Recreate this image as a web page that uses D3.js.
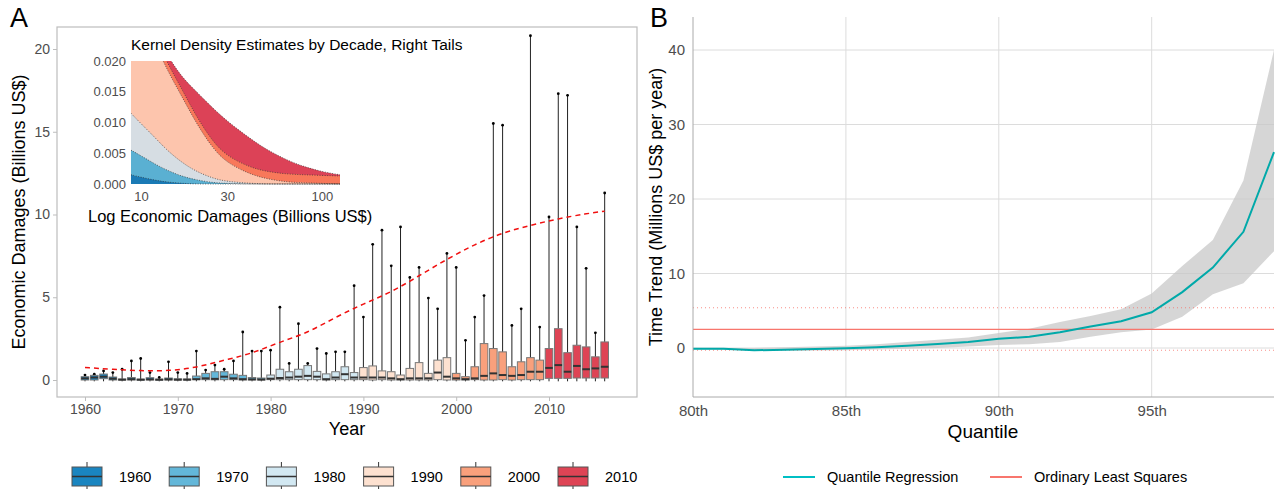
<!DOCTYPE html>
<html><head><meta charset="utf-8">
<script src="https://cdn.jsdelivr.net/npm/d3@7"></script>
<style>body{margin:0;background:#fff;font-family:"Liberation Sans",Arial,sans-serif}</style>
</head><body><svg id="c" width="1279" height="489"></svg>
<script>
const years = d3.range(1960, 2017);
const q3 = [0.2,0.28,0.36,0.18,0.06,0.15,0.05,0.14,0.05,0.12,0.07,0.06,0.24,0.4,0.5,0.5,0.35,0.28,0.15,0.12,0.3,0.65,0.5,0.65,0.87,0.52,0.37,0.5,0.8,0.45,0.75,0.85,0.55,0.5,0.3,0.7,1.05,0.4,1.2,1.35,0.4,0.2,0.8,2.2,1.9,1.7,0.8,1.1,1.35,1.2,1.9,3.1,1.65,2.1,2.0,1.4,2.3];
const med = [0.1,0.15,0.2,0.08,0.02,0.05,0.02,0.04,0.02,0.04,0.02,0.02,0.05,0.1,0.07,0.2,0.1,0.05,0.04,0.03,0.08,0.12,0.15,0.2,0.25,0.2,0.05,0.15,0.35,0.15,0.15,0.15,0.15,0.1,0.05,0.1,0.1,0.1,0.45,0.2,0.1,0.05,0.1,0.25,0.4,0.3,0.25,0.3,0.5,0.5,0.73,0.9,0.5,0.85,0.65,0.7,0.8];
const q1 = [0,0,0.08,0,0,0,0,0,0,0,0,0,0.02,0.02,0.01,0.02,0.02,0,0,0,0.02,0.02,0.02,0.02,0.02,0.02,0,0.02,0.02,0.02,0.02,0,0.02,0,0,0,0,0,0.02,0,0,0,0.02,0,0,0.02,0,0.02,0.02,0.02,0.1,0.1,0.1,0.12,0.12,0.12,0.12];
const wmax = [0.3,0.35,0.55,0.45,0.65,1.15,1.3,0.45,0.15,1.1,0.45,0.4,1.75,0.6,0.9,0.65,1.15,2.9,1.75,1.75,1.8,4.4,1.0,3.4,1.0,1.9,1.6,1.7,1.7,5.7,3.8,8.2,9.05,6.9,9.25,6.2,6.8,4.95,4.3,7.65,6.8,2.4,3.8,5.1,15.5,15.4,3.3,4.3,20.8,3.2,9.85,17.3,17.2,9.25,6.75,2.85,11.3];
const trendYears = [1960,1963,1966,1969,1972,1975,1978,1981,1984,1987,1990,1993,1996,1999,2002,2005,2008,2011,2014,2016];
const trendVals = [0.75,0.65,0.55,0.55,0.75,1.2,1.6,2.3,2.85,3.8,4.6,5.3,6.3,7.3,8.2,8.9,9.35,9.75,10.05,10.2];
const decades = ["1960","1970","1980","1990","2000","2010"];
const decadeFill = ["#1a85c0","#63b7d9","#d2e8f2","#fde1d0","#f9a07c","#de4455"];
// inset KDE right tails
const kdeX = [8.8,10,12,14,17,20,25,30,40,50,65,80,100,126];
const kde = {
 "2010":[0.036,0.031,0.025,0.0208,0.0172,0.0152,0.0123,0.0102,0.0074,0.0055,0.0038,0.0028,0.002,0.0015],
 "2000":[0.035,0.0295,0.024,0.0196,0.0152,0.0112,0.0068,0.0045,0.0027,0.002,0.0016,0.0015,0.0014,0.0013],
 "1990":[0.034,0.0285,0.0228,0.0184,0.014,0.0101,0.0057,0.0034,0.0016,0.0008,0.0003,0.0002,0.0001,0],
 "1980":[0.0115,0.0098,0.0075,0.0054,0.0034,0.0021,0.0009,0.0004,0.0001,0,0,0,0,0],
 "1970":[0.0055,0.0046,0.0032,0.0022,0.0012,0.0007,0.0002,0.0001,0,0,0,0,0,0],
 "1960":[0.0015,0.0011,0.0006,0.0003,0.0001,0,0,0,0,0,0,0,0,0]};
const kdeFill = {"1960":"#1a7ab5","1970":"#5ab0d2","1980":"#d6dde3","1990":"#fdc5ad","2000":"#f8785a","2010":"#dc4257"};
// panel B
const quant = d3.range(80,100);
const qr = [-0.1,-0.1,-0.3,-0.25,-0.15,-0.05,0.1,0.3,0.55,0.8,1.25,1.5,2.1,2.9,3.6,4.8,7.5,10.8,15.6,26.3];
const qrLo = [-0.2,-0.25,-0.3,-0.35,-0.35,-0.3,-0.2,-0.1,0,0.2,0.4,0.5,0.8,1.5,2.1,2.5,4.2,7.2,8.7,13];
const qrHi = [0,0,0,0.1,0.2,0.3,0.5,0.8,1.1,1.4,2.0,2.6,3.5,4.3,5.2,7.3,11,14.5,22.5,40];
const ols = 2.5, olsLo = -0.3, olsHi = 5.4;

const svg = d3.select("#c");
const tickCol = "#4d4d4d";
// ---------- Panel A
const xA = d3.scaleLinear().domain([1960,2010]).range([85,549]);
const yA = d3.scaleLinear().domain([0,20]).range([380,49]);
svg.append("rect").attr("x",57).attr("y",27).attr("width",580).attr("height",370).attr("fill","none").attr("stroke","#bdbdbd").attr("stroke-width",1.2);
const axB = svg.append("g").attr("transform","translate(0,397)").call(d3.axisBottom(xA).tickValues([1960,1970,1980,1990,2000,2010]).tickFormat(d3.format("d")).tickSize(4));
const axL = svg.append("g").attr("transform","translate(57,0)").call(d3.axisLeft(yA).tickValues([0,5,10,15,20]).tickSize(4));
[axB,axL].forEach(a=>{a.select(".domain").remove();a.selectAll("line").attr("stroke","#bdbdbd");a.selectAll("text").attr("fill",tickCol).style("font-size","14px").style("font-family","Liberation Sans");});
svg.append("text").attr("x",347).attr("y",435).attr("text-anchor","middle").style("font-size","18px").text("Year");
svg.append("text").attr("transform","translate(25,212) rotate(-90)").attr("text-anchor","middle").style("font-size","18px").text("Economic Damages (Billions US$)");
svg.append("text").attr("x",10).attr("y",27).style("font-size","27px").text("A");
const bw = 7.6;
const gB = svg.append("g");
years.forEach((yr,i)=>{
  const cx = xA(yr), col = decadeFill[Math.floor((yr-1960)/10)];
  gB.append("line").attr("x1",cx).attr("x2",cx).attr("y1",yA(q3[i])).attr("y2",yA(wmax[i])).attr("stroke","#222").attr("stroke-width",1);
  gB.append("line").attr("x1",cx).attr("x2",cx).attr("y1",yA(q1[i])).attr("y2",yA(-0.08)).attr("stroke","#222").attr("stroke-width",1);
  gB.append("circle").attr("cx",cx).attr("cy",yA(wmax[i])).attr("r",1.4).attr("fill","#000");
  gB.append("rect").attr("x",cx-bw/2).attr("y",yA(q3[i])).attr("width",bw).attr("height",Math.max(1,yA(q1[i])-yA(q3[i]))).attr("fill",col).attr("stroke","#777").attr("stroke-width",1);
  gB.append("line").attr("x1",cx-bw/2).attr("x2",cx+bw/2).attr("y1",yA(med[i])).attr("y2",yA(med[i])).attr("stroke","#333").attr("stroke-width",2);
});
svg.append("path").datum(trendYears.map((y,i)=>[y,trendVals[i]])).attr("d",d3.line().x(d=>xA(d[0])).y(d=>yA(d[1])).curve(d3.curveBasis)).attr("fill","none").attr("stroke","#f01010").attr("stroke-width",1.5).attr("stroke-dasharray","5,4");
// inset
const xI = d3.scaleLog().domain([8.8,126]).range([131,340]);
const yI = d3.scaleLinear().domain([0,0.02]).range([184,61]);
svg.append("clipPath").attr("id","ic").append("rect").attr("x",131).attr("y",61).attr("width",209).attr("height",124);
const gI = svg.append("g").attr("clip-path","url(#ic)");
["2010","2000","1990","1980","1970","1960"].forEach(k=>{
  const pts = kdeX.map((x,i)=>[x,kde[k][i]]);
  gI.append("path").datum(pts).attr("d",d3.area().x(d=>xI(d[0])).y0(yI(0)).y1(d=>yI(d[1])).curve(d3.curveBasis)).attr("fill",kdeFill[k]);
  gI.append("path").datum(pts).attr("d",d3.line().x(d=>xI(d[0])).y(d=>yI(d[1])).curve(d3.curveBasis)).attr("fill","none").attr("stroke","#333").attr("stroke-width",0.7).attr("stroke-dasharray","1,1.5");
});
const iy = svg.append("g").attr("transform","translate(129,0)").call(d3.axisLeft(yI).tickValues([0,0.005,0.01,0.015,0.02]).tickFormat(d3.format(".3f")).tickSize(0).tickPadding(3));
const ix = svg.append("g").attr("transform","translate(0,187)").call(d3.axisBottom(xI).tickValues([10,30,100]).tickFormat(d3.format("d")).tickSize(0).tickPadding(5));
[iy,ix].forEach(a=>{a.select(".domain").remove();a.selectAll("text").attr("fill",tickCol).style("font-size","13px").style("font-family","Liberation Sans");});
svg.append("text").attr("x",131).attr("y",50).style("font-size","15.5px").text("Kernel Density Estimates by Decade, Right Tails");
svg.append("text").attr("x",88).attr("y",222).style("font-size","16.5px").text("Log Economic Damages (Billions US$)");
// legend A
decades.forEach((d,i)=>{
  const x0 = 72 + i*97.2, y0 = 467;
  svg.append("line").attr("x1",x0+15).attr("x2",x0+15).attr("y1",y0-5).attr("y2",y0+23).attr("stroke","#333");
  svg.append("rect").attr("x",x0).attr("y",y0).attr("width",30).attr("height",19).attr("fill",decadeFill[i]).attr("stroke","#555");
  svg.append("line").attr("x1",x0).attr("x2",x0+30).attr("y1",y0+9.5).attr("y2",y0+9.5).attr("stroke","#333").attr("stroke-width",1.5);
  svg.append("text").attr("x",x0+47).attr("y",y0+15).style("font-size","14.5px").text(d);
});
// ---------- Panel B
const xB = d3.scaleLinear().domain([80,99]).range([693,1274]);
const yBs = d3.scaleLinear().domain([0,40]).range([348,50]);
const gG = svg.append("g");
[0,10,20,30,40].forEach(v=>gG.append("line").attr("x1",693).attr("x2",1274).attr("y1",yBs(v)).attr("y2",yBs(v)).attr("stroke","#dcdcdc"));
[85,90,95].forEach(v=>gG.append("line").attr("x1",xB(v)).attr("x2",xB(v)).attr("y1",17).attr("y2",397).attr("stroke","#dcdcdc"));
svg.append("path").datum(quant.map((q,i)=>[q,qrLo[i],qrHi[i]])).attr("d",d3.area().x(d=>xB(d[0])).y0(d=>yBs(d[1])).y1(d=>yBs(d[2]))).attr("fill","#c8c8c8").attr("opacity",0.75);
svg.append("line").attr("x1",693).attr("x2",1274).attr("y1",yBs(ols)).attr("y2",yBs(ols)).attr("stroke","#f8766d").attr("stroke-width",1.2);
[olsLo,olsHi].forEach(v=>svg.append("line").attr("x1",693).attr("x2",1274).attr("y1",yBs(v)).attr("y2",yBs(v)).attr("stroke","#f8766d").attr("stroke-width",1.2).attr("stroke-dasharray","1,3").attr("opacity",0.8));
svg.append("path").datum(quant.map((q,i)=>[q,qr[i]])).attr("d",d3.line().x(d=>xB(d[0])).y(d=>yBs(d[1]))).attr("fill","none").attr("stroke","#00a9a9").attr("stroke-width",2);
svg.append("line").attr("x1",693).attr("x2",693).attr("y1",17).attr("y2",397).attr("stroke","#aaa");
svg.append("line").attr("x1",693).attr("x2",1274).attr("y1",397).attr("y2",397).attr("stroke","#aaa");
const bx = svg.append("g").attr("transform","translate(0,397)").call(d3.axisBottom(xB).tickValues([80,85,90,95]).tickFormat(d=>d+"th").tickSize(0).tickPadding(8));
const by = svg.append("g").attr("transform","translate(693,0)").call(d3.axisLeft(yBs).tickValues([0,10,20,30,40]).tickSize(0).tickPadding(8));
[bx,by].forEach(a=>{a.select(".domain").remove();a.selectAll("text").attr("fill",tickCol).style("font-size","15px").style("font-family","Liberation Sans");});
svg.append("text").attr("x",983).attr("y",438).attr("text-anchor","middle").style("font-size","19px").text("Quantile");
svg.append("text").attr("transform","translate(662,207) rotate(-90)").attr("text-anchor","middle").style("font-size","18px").text("Time Trend (Millions US$ per year)");
svg.append("text").attr("x",650).attr("y",27).style("font-size","27px").text("B");
// legend B
[["Quantile Regression","#00bfc4",783],["Ordinary Least Squares","#f8766d",990]].forEach(([t,c,x0])=>{
  svg.append("line").attr("x1",x0).attr("x2",x0+32).attr("y1",477).attr("y2",477).attr("stroke",c).attr("stroke-width",2);
  svg.append("text").attr("x",x0+44).attr("y",482).style("font-size","14.5px").text(t);
});
</script></body></html>
